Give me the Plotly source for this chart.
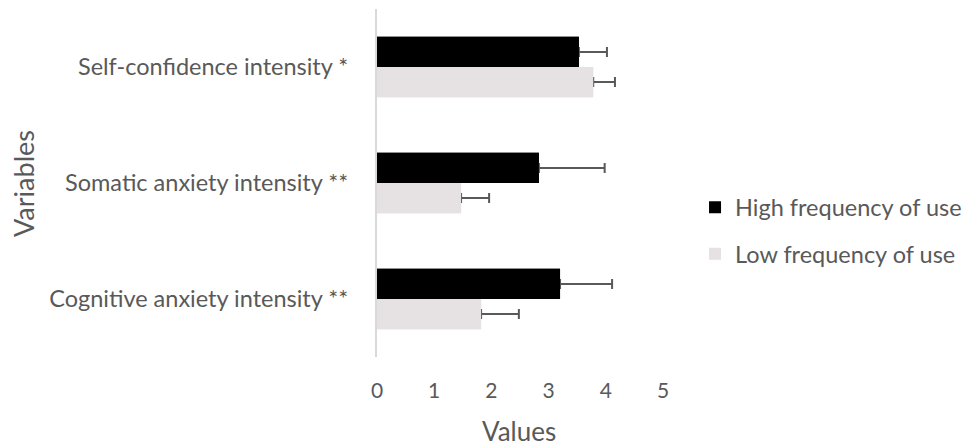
import plotly.graph_objects as go

# Categories, top to bottom
categories = [
    "Self-confidence intensity *",
    "Somatic anxiety intensity **",
    "Cognitive anxiety intensity **",
]

# Group means and (upper) error bars
high_values = [3.53, 2.83, 3.20]
high_errors = [0.49, 1.15, 0.91]
low_values = [3.78, 1.47, 1.82]
low_errors = [0.38, 0.49, 0.66]

series_names = ["High frequency of use", "Low frequency of use"]
series_colors = ["#000000", "#e6e2e3"]
x_ticks = [0, 1, 2, 3, 4, 5]

FONT = "Lato"
TEXT = "#595959"
ERR = "#595959"

fig = go.Figure()
series = [
    (series_names[0], high_values, high_errors, series_colors[0], "high"),
    (series_names[1], low_values, low_errors, series_colors[1], "low"),
]
for name, vals, errs, color, grp in series:
    # bar carrying the one-sided error bar
    fig.add_trace(go.Bar(
        y=categories, x=vals, orientation="h", name=name,
        marker=dict(color=color, line=dict(width=0)),
        error_x=dict(type="data", symmetric=False, array=errs,
                     arrayminus=[0] * len(errs),
                     color=ERR, thickness=2, width=5),
        offsetgroup=grp, legendgroup=grp,
    ))
for name, vals, errs, color, grp in series:
    # same bar redrawn on top so the inner cap at the bar end is hidden
    fig.add_trace(go.Bar(
        y=categories, x=vals, orientation="h", name=name,
        marker=dict(color=color, line=dict(width=0)),
        offsetgroup=grp, legendgroup=grp, showlegend=False, hoverinfo="skip",
    ))

fig.update_layout(
    width=963, height=446,
    margin=dict(l=377, r=300, t=9, b=89, autoexpand=False),
    paper_bgcolor="white", plot_bgcolor="white",
    barmode="group", bargap=0.48, bargroupgap=0,
    font=dict(family=FONT, size=22, color=TEXT),
    showlegend=True,
    legend=dict(
        x=1.112, xanchor="left", y=0.362, yanchor="middle",
        font=dict(family=FONT, size=23.5, color=TEXT),
        traceorder="grouped", tracegroupgap=13,
        bgcolor="rgba(0,0,0,0)",
    ),
    xaxis=dict(
        range=[0, 5], tickvals=x_ticks, showgrid=False, zeroline=False,
        showline=False, ticks="", ticklabelstandoff=19,
        tickfont=dict(family=FONT, size=21, color=TEXT),
    ),
    yaxis=dict(
        autorange="reversed", showgrid=False, zeroline=False,
        showline=True, linecolor="#d9d9d9", linewidth=2,
        ticks="", ticklabelstandoff=22,
        tickfont=dict(family=FONT, size=23.5, color=TEXT),
    ),
    annotations=[
        dict(text="Values", xref="paper", yref="paper", x=0.497, y=-0.213,
             xanchor="center", yanchor="middle", showarrow=False,
             font=dict(family=FONT, size=26, color=TEXT)),
        dict(text="Variables", xref="paper", yref="paper", x=-1.238, y=0.5,
             xanchor="center", yanchor="middle", showarrow=False, textangle=-90,
             font=dict(family=FONT, size=27, color=TEXT)),
    ],
)

fig.write_html("out.html")
